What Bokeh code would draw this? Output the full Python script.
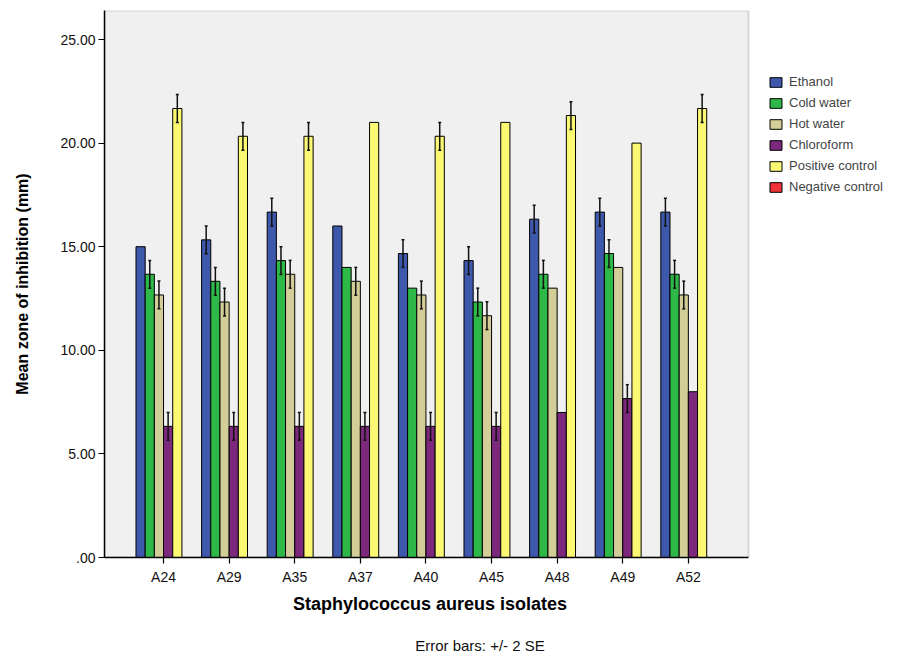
from bokeh.plotting import figure
from bokeh.models import Range1d, FixedTicker, Legend, LegendItem, LinearAxis, BoxAnnotation, ColumnDataSource
from bokeh.transform import dodge
from bokeh.embed import file_html
from bokeh.resources import INLINE

# ---- data ----
isolates = ["A24", "A29", "A35", "A37", "A40", "A45", "A48", "A49", "A52"]
ethanol = [15.0, 15.33, 16.67, 16.0, 14.67, 14.33, 16.33, 16.67, 16.67]
ethanol_err = [0.0, 0.67, 0.67, 0.0, 0.67, 0.67, 0.67, 0.67, 0.67]
cold_water = [13.67, 13.33, 14.33, 14.0, 13.0, 12.33, 13.67, 14.67, 13.67]
cold_water_err = [0.67, 0.67, 0.67, 0.0, 0.0, 0.67, 0.67, 0.67, 0.67]
hot_water = [12.67, 12.33, 13.67, 13.33, 12.67, 11.67, 13.0, 14.0, 12.67]
hot_water_err = [0.67, 0.67, 0.67, 0.67, 0.67, 0.67, 0.0, 0.0, 0.67]
chloroform = [6.33, 6.33, 6.33, 6.33, 6.33, 6.33, 7.0, 7.67, 8.0]
chloroform_err = [0.67, 0.67, 0.67, 0.67, 0.67, 0.67, 0.0, 0.67, 0.0]
positive_control = [21.67, 20.33, 20.33, 21.0, 20.33, 21.0, 21.33, 20.0, 21.67]
positive_control_err = [0.67, 0.67, 0.67, 0.0, 0.67, 0.0, 0.67, 0.0, 0.67]
negative_control = [0.0, 0.0, 0.0, 0.0, 0.0, 0.0, 0.0, 0.0, 0.0]
negative_control_err = [0.0, 0.0, 0.0, 0.0, 0.0, 0.0, 0.0, 0.0, 0.0]

series_names = ["Ethanol", "Cold water", "Hot water", "Chloroform", "Positive control", "Negative control"]
y_ticks = [0, 5, 10, 15, 20, 25]
y_tick_labels = [".00", "5.00", "10.00", "15.00", "20.00", "25.00"]
x_title = "Staphylococcus aureus isolates"
y_title = "Mean zone of inhibition (mm)"
note_text = "Error bars: +/- 2 SE"

# ---- styles / layout ----
colors = ["#3E58AC", "#2EB848", "#D3CE97", "#7C287D", "#FBF873", "#EF3338"]
FONT = "Liberation Sans"
NBSP = "\u00a0"
bar_w = 0.14
PAD = 0.9                      # category units before the first isolate
AREA_END = len(isolates) - 1 + 0.917   # right edge of the grey plot area
X_END = 11.31                  # frame continues to the right to hold the legend
Y_TOP = 26.4
positions = list(range(len(isolates)))

p = figure(
    x_range=Range1d(-PAD, X_END),
    y_range=Range1d(0, Y_TOP),
    width=905, height=656,
    output_backend="svg", toolbar_location=None,
    min_border_left=104, min_border_right=0, min_border_top=10, min_border_bottom=95,
)
p.background_fill_color = "white"
p.border_fill_color = "white"
p.outline_line_color = None
p.xgrid.visible = False
p.ygrid.visible = False

p.add_layout(BoxAnnotation(left=-PAD, right=AREA_END, bottom=0, top=Y_TOP,
                           fill_color="#F0F0F0", fill_alpha=1,
                           line_color="#8A8A8A", line_width=2, level="underlay"))

values = [ethanol, cold_water, hot_water, chloroform, positive_control, negative_control]
errors = [ethanol_err, cold_water_err, hot_water_err, chloroform_err, positive_control_err, negative_control_err]

items = []
for i, (name, vals, errs, col) in enumerate(zip(series_names, values, errors, colors)):
    off = (i - 2.5) * bar_w
    src = ColumnDataSource(dict(x=positions, top=vals))
    r = p.vbar(x=dodge("x", off), top="top", bottom=0, width=bar_w,
               source=src, fill_color=col, line_color="black", line_width=1)
    items.append(LegendItem(label=name, renderers=[r]))
    ex = [c for c, e in zip(positions, errs) if e > 0]
    lo = [v - e for v, e in zip(vals, errs) if e > 0]
    hi = [v + e for v, e in zip(vals, errs) if e > 0]
    if ex:
        esrc = ColumnDataSource(dict(x=ex, lo=lo, hi=hi))
        p.segment(x0=dodge("x", off), y0="lo", x1=dodge("x", off), y1="hi",
                  source=esrc, line_color="#111111", line_width=1.5)
        p.scatter(x=dodge("x", off), y="hi", marker="dash", size=3,
                  source=esrc, line_color="#111111", line_width=1.5)
        p.scatter(x=dodge("x", off), y="lo", marker="dash", size=3,
                  source=esrc, line_color="#111111", line_width=1.5)

# axes
p.yaxis.ticker = FixedTicker(ticks=y_ticks)
p.yaxis.major_label_overrides = {t: l for t, l in zip(y_ticks, y_tick_labels)}
p.xaxis.ticker = FixedTicker(ticks=positions)
p.xaxis.major_label_overrides = {pos: name for pos, name in zip(positions, isolates)}
p.xaxis.bounds = (-PAD, AREA_END)
for ax in (p.xaxis, p.yaxis):
    ax.axis_line_color = "black"
    ax.axis_line_width = 1.5
    ax.major_tick_line_color = "black"
    ax.major_tick_line_width = 1.2
    ax.minor_tick_line_color = None
    ax.major_tick_in = 0
    ax.major_tick_out = 6
    ax.major_label_text_font = FONT
    ax.major_label_text_font_size = "14px"
    ax.major_label_text_color = "#111111"
    ax.axis_label_text_font = FONT
    ax.axis_label_text_font_style = "bold"
    ax.axis_label_text_color = "black"
p.yaxis.major_label_standoff = 3
p.yaxis.axis_label = y_title
p.yaxis.axis_label_text_font_size = "16px"
p.yaxis.axis_label_standoff = 26
p.xaxis.major_label_standoff = 5
# trailing no-break spaces pull the centred title left over the grey plot area
p.xaxis.axis_label = x_title + NBSP * 30
p.xaxis.axis_label_text_font_size = "18px"
p.xaxis.axis_label_standoff = 6

legend = Legend(items=items, location=(664, 363), orientation="vertical",
                glyph_width=15, glyph_height=12, label_height=12, spacing=6,
                label_standoff=6, padding=0, margin=0,
                label_text_font=FONT, label_text_font_size="13px",
                border_line_color=None, background_fill_alpha=0)
p.add_layout(legend, "center")

# note below the x-axis title, drawn as the label of a bare second axis
note_axis = LinearAxis(ticker=FixedTicker(ticks=[]),
                       axis_line_color=None, major_tick_line_color=None,
                       minor_tick_line_color=None, major_label_text_font_size="0px",
                       major_label_standoff=0,
                       axis_label=note_text + NBSP * 12, axis_label_standoff=20,
                       axis_label_text_font=FONT, axis_label_text_font_size="15px",
                       axis_label_text_font_style="normal", axis_label_text_color="#111111")
p.add_layout(note_axis, "below")

open("out.html", "w").write(file_html(p, INLINE))
